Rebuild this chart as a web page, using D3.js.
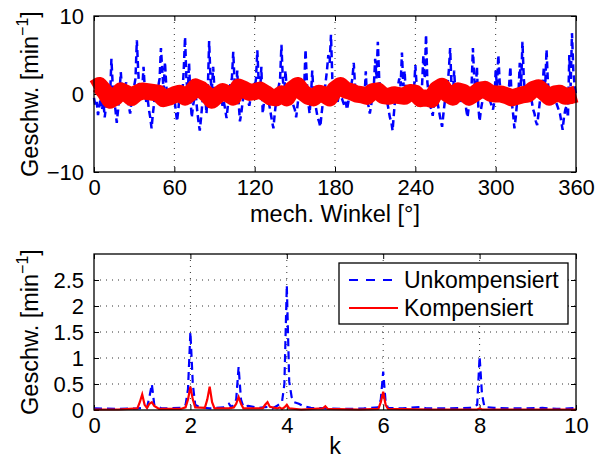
<!DOCTYPE html>
<html>
<head>
<meta charset="utf-8">
<script src="https://cdn.jsdelivr.net/npm/d3@7"></script>
<style>
  body { margin: 0; background: #fff; }
  svg text { font-family: "Liberation Sans", Arial, sans-serif; }
</style>
</head>
<body>
<svg id="canvas" width="595" height="463"></svg>
<script>
// top plot: speed ripple over mech. angle, one value every 1 deg (blue) / 4 deg (red)
const angleStepBlue = 1;
const angleStepRed = 4;
const unkompensiert = [
  -0.5, -1.5, -1, -2.7, -1.5, -0.5, -2, -1, -3, -1.5,
  0, 1, -0.5, 4.5, 1, -1, -2, -3.7, -2, 0,
  2.8, 0.5, -1, 0.5, 1.5, -0.5, -1.5, -2.5, -1, 0.5,
  1, 2, 6.9, 3, 0, 1, 0.5, 3.5, 0.5, -1,
  -0.5, -2, -3, -4.4, -2.5, -1, 0.5, -0.5, 1, 2,
  5.9, 3, 0.5, 4.1, 1, -0.5, -1.5, 0, 0.5, -1,
  -0.5, -2, -3.5, -2, 0, 1, 0, 3, 7.3, 2,
  0, 4, -0.5, -3, -1.5, -0.5, 0, -2, -3.5, -4.7,
  -3, -1, 1, 0, -2.5, 0.5, 6.8, 2, 0.5, 3.5,
  0.5, -0.5, -1.5, 0, 0.5, -0.5, -1.5, -1, -2, -3.1,
  -1.5, 0, 1.5, 2, 5.4, 1.5, 0, 3, -1, -3.5,
  -2.5, -1, 0, 1, 0.5, -1, -1.5, -0.5, 0.5, 1,
  0.5, 2, 5.6, 1.5, 0, 3.5, -2.5, -1, 0.5, -0.5,
  -1, -1.5, -2.5, -3.5, -4.4, -2.5, -1, 0.5, 1, 2,
  6.3, 2, 0, 3, 0.5, -0.5, 0.5, 1, -0.5, -1.5,
  -2, -3, -1.5, 0, 1, 1.5, 2, 1, 5.7, 1.5,
  -1, -2.5, -0.5, 3, 0, -1, -2, -3, -3.5, -4.2,
  -2.5, -1, 0, 1.5, 3, 5, 4, 7.6, 2, 0,
  1, -0.5, -1, 0, 0.5, -0.5, -1, -1.5, -1, -2,
  -1, 0.5, 1, 2, 4, 1, 0, 0.5, -0.5, -1,
  0, 1, -0.5, 2.9, -1, -1.5, -2.5, -1.5, 0, 1,
  4.5, 2, 6.7, 2, 0, -1, -0.5, 0.5, -0.5, -1,
  -2, -3, -3.5, -4.7, -2.5, -0.5, 0.5, 1, 2, 1,
  5.3, 1, 3, -0.5, -1, 0, 0.5, -0.5, -1, 0.5,
  3.7, 1, -0.5, -1, 0, 1, 5, 2, 7.6, 1.5,
  0, -1.5, -2, -2.8, -1, 0, -0.5, -1.5, -2.5, -3.5,
  -4.2, -2.5, -1, 0.5, 1, 3, 5.9, 1, -0.5, 3,
  0, -1, 0.5, 0, -1, -0.5, 1, 0, -2, -3,
  -1.5, 0, 1, 5.9, 2, 0, 3.5, -1.5, -3.5, -2,
  -1, 0, 0.5, 0, 1, 0.5, -1, -1.5, -2, -1,
  3, 1, 5, 1.5, 0, -1, 0, 0.5, -0.5, 0,
  1, 3.5, -1, -2.5, -4.4, -3, -1, 0, 4, 1,
  6.7, 2, 0, -1, -0.5, 0.5, -0.5, -1, -2, -2.5,
  -3.5, -4, -2.5, -1, 0, 1, 3.5, 1, 5.7, 1.5,
  0, -1, -0.5, 0.5, -0.5, -1, -1.5, -2, -2.5, -3.5,
  -4.6, -3, -2, -1.5, -3, 5, 1, 7.8, 3, 1,
  0
];
const kompensiert = [
  0.7, 1.1, 0.3, -0.8, -0.4, 0.4, 0.1, -0.45, 0.1, 0.4,
  0.3, 0.2, 0.1, -0.6, -0.4, -0.1, 0.1, -0.4, 0.1, 0.9,
  0.6, 0, -0.8, -0.2, 0.3, 0, -0.4, 0.9, 0.6, 0.2,
  0.3, 0.5, 0.1, -0.4, -0.5, 0, -0.5, 0.6, 1.1, 0.2,
  -0.3, -0.5, 0.1, -0.1, -0.5, 0.6, 1.1, 0.5, 0.3, 0,
  -0.1, -0.3, 0.3, 0.4, -0.2, -0.3, -0.1, -0.2, -0.3, 0.2,
  0.1, -0.6, -0.5, -0.7, 0.6, 1.0, 0, -0.4, 0.4, 0.2,
  -0.4, 0, 0.5, 0.6, 0.1, 0, 0, -0.2, -0.5, -0.3,
  -0.1, 0, 0.6, 0.8, 0.2, -0.4, 0, 0.1, -0.3, -0.2,
  0
];
const angleTicks = [0, 60, 120, 180, 240, 300, 360];
const speedTicks = [-10, 0, 10];

// bottom plot: spectrum, [k, amplitude]
const specUnkomp = [
  [0,0.03],[0.5,0.02],[0.9,0.03],[1.1,0.05],[1.15,0.25],[1.2,0.5],[1.25,0.1],[1.4,0.03],
  [1.8,0.04],[1.9,0.1],[1.95,0.4],[2.0,1.5],[2.05,0.5],[2.1,0.1],[2.2,0.05],[2.4,0.03],
  [2.7,0.05],[2.8,0.12],[2.85,0.05],[2.95,0.2],[3.0,0.83],[3.05,0.2],[3.1,0.06],[3.2,0.08],
  [3.4,0.04],[3.6,0.06],[3.7,0.03],[3.8,0.08],[3.9,0.15],[3.95,0.5],[4.0,2.4],[4.05,0.55],
  [4.1,0.25],[4.15,0.15],[4.25,0.12],[4.35,0.07],[4.5,0.04],[4.8,0.03],[5.2,0.02],[5.6,0.03],
  [5.9,0.05],[5.95,0.2],[6.0,0.74],[6.05,0.15],[6.1,0.04],[6.4,0.03],[6.8,0.06],[6.9,0.03],
  [7.3,0.03],[7.8,0.04],[7.95,0.1],[8.0,1.03],[8.05,0.3],[8.1,0.06],[8.3,0.04],[8.8,0.03],
  [9.3,0.04],[9.6,0.02],[10,0.04]
];
const specKomp = [
  [0,0.01],[0.5,0.01],[0.9,0.03],[0.95,0.15],[1.0,0.3],[1.05,0.1],[1.1,0.04],[1.15,0.12],
  [1.2,0.15],[1.25,0.08],[1.35,0.02],[1.8,0.02],[1.9,0.05],[1.95,0.2],[2.0,0.45],[2.05,0.2],
  [2.1,0.05],[2.3,0.04],[2.35,0.2],[2.4,0.45],[2.45,0.15],[2.5,0.03],[2.8,0.03],[2.9,0.05],
  [2.95,0.12],[3.0,0.25],[3.05,0.12],[3.1,0.03],[3.5,0.03],[3.55,0.1],[3.6,0.15],[3.65,0.06],
  [3.8,0.03],[3.85,0.05],[3.9,0.02],[3.95,0.05],[4.0,0.1],[4.05,0.03],[4.3,0.01],[4.75,0.03],
  [4.8,0.07],[4.85,0.02],[5.5,0.01],[5.9,0.02],[5.95,0.15],[6.0,0.35],[6.05,0.1],[6.1,0.02],
  [7.0,0.01],[7.95,0.01],[8.0,0.03],[8.05,0.01],[10,0.01]
];
const kTicks = [0, 2, 4, 6, 8, 10];
const ampTicks = [0, 0.5, 1, 1.5, 2, 2.5];
const legendNames = ["Unkompensiert", "Kompensiert"];

const svg = d3.select('#canvas');
const fontSize = 22;     // tick labels
const labelSize = 23.5;  // axis labels
const blue = '#0000ff', red = '#ff0000';

// plot boxes
const left = 94, right = 576;
const top1 = 16, bottom1 = 172;
const top2 = 254, bottom2 = 410;

function drawFrame(x, y, xt, yt, yGrid){
    let g = svg.append('g');
    let yTop = y.range()[1], yBot = y.range()[0];

    // vertical grid
    g.append('g').selectAll('line').data(xt.slice(1, -1)).join('line')
        .attr('x1', d => x(d)).attr('x2', d => x(d))
        .attr('y1', yTop).attr('y2', yBot)
        .attr('stroke', '#333').attr('stroke-width', 1)
        .attr('stroke-dasharray', '1,5');
    if(yGrid){
        g.append('g').selectAll('line').data(yt.slice(1)).join('line')
            .attr('x1', left).attr('x2', right)
            .attr('y1', d => y(d)).attr('y2', d => y(d))
            .attr('stroke', '#333').attr('stroke-width', 1)
            .attr('stroke-dasharray', '1,5');
    }

    // axes with inward ticks (MATLAB look)
    let ax = g.append('g').attr('transform', `translate(0,${yBot})`)
        .call(d3.axisBottom(x).tickValues(xt).tickSize(-5).tickPadding(7));
    let axT = g.append('g').attr('transform', `translate(0,${yTop})`)
        .call(d3.axisTop(x).tickValues(xt).tickSize(-5).tickFormat(''));
    let ay = g.append('g').attr('transform', `translate(${left},0)`)
        .call(d3.axisLeft(y).tickValues(yt).tickSize(-5).tickPadding(10).tickFormat(d => d3.format('')(d).replace('-', '\u2212')));
    let ayR = g.append('g').attr('transform', `translate(${right},0)`)
        .call(d3.axisRight(y).tickValues(yt).tickSize(-5).tickFormat(''));
    for(let a of [ax, axT, ay, ayR]){
        a.select('.domain').remove();
        a.selectAll('line').attr('stroke', '#000');
        a.selectAll('text').attr('font-size', fontSize).attr('fill', '#000')
            .attr('font-family', '"Liberation Sans", Arial, sans-serif');
    }
    ax.selectAll('text').attr('dy', '0.72em');
    return g;
}

function boxOutline(y){
    svg.append('rect')
        .attr('x', left).attr('y', y.range()[1])
        .attr('width', right - left).attr('height', y.range()[0] - y.range()[1])
        .attr('fill', 'none').attr('stroke', '#000').attr('stroke-width', 1.3);
}

function yLabel(cy){
    let t = svg.append('text')
        .attr('transform', `translate(38,${cy}) rotate(-90)`)
        .attr('text-anchor', 'middle')
        .attr('font-size', labelSize);
    t.append('tspan').text('Geschw. [min');
    t.append('tspan').attr('dy', -10).attr('font-size', 16).text('\u22121');
    t.append('tspan').attr('dy', 10).text(']');
}

// ---- top plot ----
let x1 = d3.scaleLinear().domain([0, 360]).range([left, right]);
let y1 = d3.scaleLinear().domain([-10, 10]).range([bottom1, top1]);
drawFrame(x1, y1, angleTicks, speedTicks, false);

let line1 = d3.line().x(d => x1(d[0])).y(d => y1(d[1]));
svg.append('path')
    .attr('d', line1(unkompensiert.map((v, i) => [i * angleStepBlue, v])))
    .attr('fill', 'none').attr('stroke', blue).attr('stroke-width', 2.5)
    .attr('stroke-dasharray', '7,4');
// the compensated trace is a thick band (fast ripple around this mean)
svg.append('path')
    .attr('d', line1(kompensiert.map((v, i) => [i * angleStepRed, v])))
    .attr('fill', 'none').attr('stroke', red).attr('stroke-width', 17)
    .attr('stroke-linejoin', 'round');
boxOutline(y1);

svg.append('text').attr('x', (left + right) / 2).attr('y', 222)
    .attr('text-anchor', 'middle').attr('font-size', labelSize)
    .text('mech. Winkel [\u00b0]');
yLabel((top1 + bottom1) / 2);

// ---- bottom plot ----
let x2 = d3.scaleLinear().domain([0, 10]).range([left, right]);
let y2 = d3.scaleLinear().domain([0, 3]).range([bottom2, top2]);
drawFrame(x2, y2, kTicks, ampTicks, true);

let line2 = d3.line().x(d => x2(d[0])).y(d => y2(d[1]));
svg.append('path').attr('d', line2(specUnkomp))
    .attr('fill', 'none').attr('stroke', blue).attr('stroke-width', 2.2)
    .attr('stroke-dasharray', '8,5');
svg.append('path').attr('d', line2(specKomp))
    .attr('fill', 'none').attr('stroke', red).attr('stroke-width', 2.2);
boxOutline(y2);

svg.append('text').attr('x', (left + right) / 2).attr('y', 454)
    .attr('text-anchor', 'middle').attr('font-size', labelSize).text('k');
yLabel((top2 + bottom2) / 2);

// legend
let leg = svg.append('g');
leg.append('rect').attr('x', 339).attr('y', 263).attr('width', 229).attr('height', 61)
    .attr('fill', '#fff').attr('stroke', '#000').attr('stroke-width', 1.3);
leg.selectAll('g.item').data(legendNames).join(enter => {
    let it = enter.append('g').attr('class', 'item')
        .attr('transform', (d, i) => `translate(0,${280 + i * 28})`);
    it.append('line').attr('x1', 349).attr('x2', 398)
        .attr('stroke', (d, i) => i == 0 ? blue : red).attr('stroke-width', 2)
        .attr('stroke-dasharray', (d, i) => i == 0 ? '9,8' : null);
    it.append('text').attr('x', 404).attr('y', 8).attr('font-size', 23).text(d => d);
});
</script>
</body>
</html>
